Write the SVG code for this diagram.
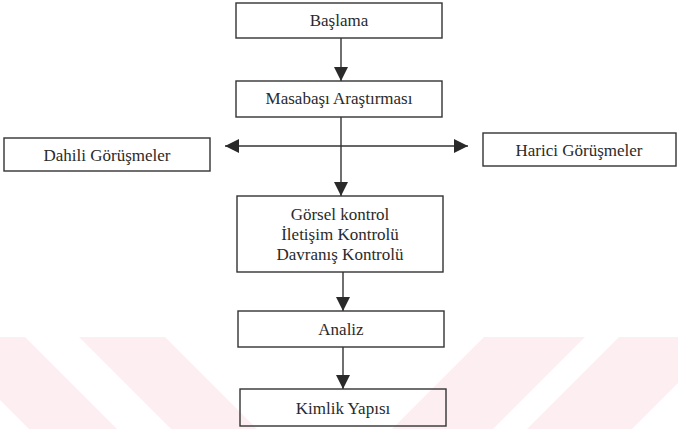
<svg xmlns="http://www.w3.org/2000/svg" width="678" height="429" viewBox="0 0 678 429">
<style>
.box{fill:none;stroke:#333;stroke-width:1.4}
.ln{stroke:#333;stroke-width:1.4;fill:none}
.wm{fill:#fdeef1}
</style>
<defs>
<marker id="ah" markerUnits="userSpaceOnUse" markerWidth="14" markerHeight="14" refX="14" refY="7" orient="auto-start-reverse">
<path d="M0,0 L14,7 L0,14 Z" fill="#2a2a2a"/>
</marker>
</defs>
<rect width="678" height="429" fill="#ffffff"/>
<g id="watermark">
<polygon class="wm" points="-63,337 25,337 117,429 29,429"/>
<polygon class="wm" points="79,337 165,337 257,429 171,429"/>
<polygon class="wm" points="484,337 585,337 493,429 392,429"/>
<polygon class="wm" points="619,337 724,337 632,429 527,429"/>
</g>
<g id="connectors">
<line class="ln" x1="341" y1="38" x2="341" y2="81" marker-end="url(#ah)"/>
<line class="ln" x1="341" y1="117" x2="341" y2="196" marker-end="url(#ah)"/>
<line class="ln" x1="225" y1="146" x2="468" y2="146" marker-start="url(#ah)" marker-end="url(#ah)"/>
<line class="ln" x1="343" y1="272" x2="343" y2="311" marker-end="url(#ah)"/>
<line class="ln" x1="343" y1="347" x2="343" y2="389" marker-end="url(#ah)"/>
</g>
<g font-family="Liberation Serif, Times New Roman, DejaVu Serif, serif" font-size="17" fill="#2a2a2a" text-anchor="middle">
<g id="baslama">
<rect class="box" x="236" y="3" width="206" height="35"/>
<text x="339" y="26">Başlama</text>
</g>
<g id="masabasi">
<rect class="box" x="236" y="81" width="206" height="36"/>
<text x="339" y="104">Masabaşı Araştırması</text>
</g>
<g id="dahili">
<rect class="box" x="4" y="138" width="206" height="33"/>
<text x="107" y="161">Dahili Görüşmeler</text>
</g>
<g id="harici">
<rect class="box" x="483" y="133" width="193" height="33"/>
<text x="579" y="156">Harici Görüşmeler</text>
</g>
<g id="kontrol">
<rect class="box" x="237" y="196" width="206" height="76"/>
<text x="340" y="220">Görsel kontrol</text>
<text x="340" y="240">İletişim Kontrolü</text>
<text x="340" y="260">Davranış Kontrolü</text>
</g>
<g id="analiz">
<rect class="box" x="238" y="311" width="206" height="36"/>
<text x="341" y="335">Analiz</text>
</g>
<g id="kimlik">
<rect class="box" x="240" y="389" width="206" height="37"/>
<text x="343" y="414">Kimlik Yapısı</text>
</g>
</g>
</svg>
